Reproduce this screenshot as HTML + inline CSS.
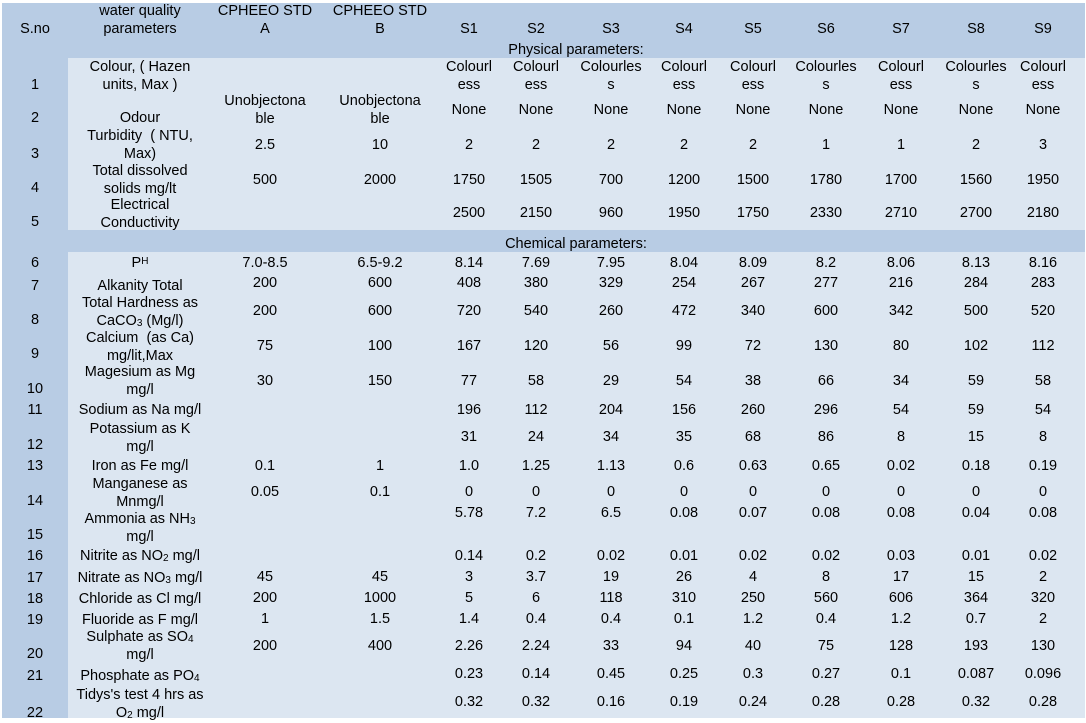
<!DOCTYPE html>
<html><head><meta charset="utf-8"><style>
body{margin:0;width:1086px;height:719px;background:#fff;position:relative;overflow:hidden;font-family:"Liberation Sans",Arial,sans-serif;font-size:14.5px;color:#000}
.bg{position:absolute}
.t{position:absolute;width:120px;margin-left:-60px;margin-top:2px;text-align:center;line-height:17.5px;white-space:nowrap}
.w{width:170px;margin-left:-85px}
sub{font-size:10px;vertical-align:-1px;line-height:0}
sup{font-size:10px;vertical-align:3px;line-height:0}
</style></head><body>
<div class="bg" style="left:2px;top:3px;width:1083px;height:715px;background:#b8cce4"></div>
<div class="bg" style="left:68px;top:58px;width:1017px;height:172px;background:#dce6f1"></div>
<div class="bg" style="left:68px;top:252px;width:1017px;height:466px;background:#dce6f1"></div>

<div class="t" style="left:35px;top:19px">S.no</div>
<div class="t w" style="left:140px;top:1px">water quality<br>parameters</div>
<div class="t w" style="left:265px;top:1px">CPHEEO STD<br>A</div>
<div class="t w" style="left:380px;top:1px">CPHEEO STD<br>B</div>
<div class="t" style="left:469px;top:19px">S1</div>
<div class="t" style="left:536px;top:19px">S2</div>
<div class="t" style="left:611px;top:19px">S3</div>
<div class="t" style="left:684px;top:19px">S4</div>
<div class="t" style="left:753px;top:19px">S5</div>
<div class="t" style="left:826px;top:19px">S6</div>
<div class="t" style="left:901px;top:19px">S7</div>
<div class="t" style="left:976px;top:19px">S8</div>
<div class="t" style="left:1043px;top:19px">S9</div>
<div class="t w" style="left:576px;top:40px">Physical parameters:</div>

<div class="t" style="left:35px;top:75px">1</div>
<div class="t w" style="left:140px;top:57px">Colour, ( Hazen<br>units, Max )</div>
<div class="t" style="left:469px;top:57px">Colourl<br>ess</div>
<div class="t" style="left:536px;top:57px">Colourl<br>ess</div>
<div class="t" style="left:611px;top:57px">Colourles<br>s</div>
<div class="t" style="left:684px;top:57px">Colourl<br>ess</div>
<div class="t" style="left:753px;top:57px">Colourl<br>ess</div>
<div class="t" style="left:826px;top:57px">Colourles<br>s</div>
<div class="t" style="left:901px;top:57px">Colourl<br>ess</div>
<div class="t" style="left:976px;top:57px">Colourles<br>s</div>
<div class="t" style="left:1043px;top:57px">Colourl<br>ess</div>

<div class="t" style="left:35px;top:108px">2</div>
<div class="t w" style="left:140px;top:108px">Odour</div>
<div class="t w" style="left:265px;top:91px">Unobjectona<br>ble</div>
<div class="t w" style="left:380px;top:91px">Unobjectona<br>ble</div>
<div class="t" style="left:469px;top:100px">None</div>
<div class="t" style="left:536px;top:100px">None</div>
<div class="t" style="left:611px;top:100px">None</div>
<div class="t" style="left:684px;top:100px">None</div>
<div class="t" style="left:753px;top:100px">None</div>
<div class="t" style="left:826px;top:100px">None</div>
<div class="t" style="left:901px;top:100px">None</div>
<div class="t" style="left:976px;top:100px">None</div>
<div class="t" style="left:1043px;top:100px">None</div>

<div class="t" style="left:35px;top:144px">3</div>
<div class="t w" style="left:140px;top:126px">Turbidity &nbsp;( NTU,<br>Max)</div>
<div class="t" style="left:265px;top:135px">2.5</div>
<div class="t" style="left:380px;top:135px">10</div>
<div class="t" style="left:469px;top:135px">2</div>
<div class="t" style="left:536px;top:135px">2</div>
<div class="t" style="left:611px;top:135px">2</div>
<div class="t" style="left:684px;top:135px">2</div>
<div class="t" style="left:753px;top:135px">2</div>
<div class="t" style="left:826px;top:135px">1</div>
<div class="t" style="left:901px;top:135px">1</div>
<div class="t" style="left:976px;top:135px">2</div>
<div class="t" style="left:1043px;top:135px">3</div>

<div class="t" style="left:35px;top:178px">4</div>
<div class="t w" style="left:140px;top:161px">Total dissolved<br>solids mg/lt</div>
<div class="t" style="left:265px;top:170px">500</div>
<div class="t" style="left:380px;top:170px">2000</div>
<div class="t" style="left:469px;top:170px">1750</div>
<div class="t" style="left:536px;top:170px">1505</div>
<div class="t" style="left:611px;top:170px">700</div>
<div class="t" style="left:684px;top:170px">1200</div>
<div class="t" style="left:753px;top:170px">1500</div>
<div class="t" style="left:826px;top:170px">1780</div>
<div class="t" style="left:901px;top:170px">1700</div>
<div class="t" style="left:976px;top:170px">1560</div>
<div class="t" style="left:1043px;top:170px">1950</div>

<div class="t" style="left:35px;top:212px">5</div>
<div class="t w" style="left:140px;top:195px">Electrical<br>Conductivity</div>
<div class="t" style="left:469px;top:203px">2500</div>
<div class="t" style="left:536px;top:203px">2150</div>
<div class="t" style="left:611px;top:203px">960</div>
<div class="t" style="left:684px;top:203px">1950</div>
<div class="t" style="left:753px;top:203px">1750</div>
<div class="t" style="left:826px;top:203px">2330</div>
<div class="t" style="left:901px;top:203px">2710</div>
<div class="t" style="left:976px;top:203px">2700</div>
<div class="t" style="left:1043px;top:203px">2180</div>
<div class="t w" style="left:576px;top:234px">Chemical parameters:</div>

<div class="t" style="left:35px;top:253px">6</div>
<div class="t w" style="left:140px;top:253px">P<sup>H</sup></div>
<div class="t" style="left:265px;top:253px">7.0-8.5</div>
<div class="t" style="left:380px;top:253px">6.5-9.2</div>
<div class="t" style="left:469px;top:253px">8.14</div>
<div class="t" style="left:536px;top:253px">7.69</div>
<div class="t" style="left:611px;top:253px">7.95</div>
<div class="t" style="left:684px;top:253px">8.04</div>
<div class="t" style="left:753px;top:253px">8.09</div>
<div class="t" style="left:826px;top:253px">8.2</div>
<div class="t" style="left:901px;top:253px">8.06</div>
<div class="t" style="left:976px;top:253px">8.13</div>
<div class="t" style="left:1043px;top:253px">8.16</div>

<div class="t" style="left:35px;top:276px">7</div>
<div class="t w" style="left:140px;top:276px">Alkanity Total</div>
<div class="t" style="left:265px;top:273px">200</div>
<div class="t" style="left:380px;top:273px">600</div>
<div class="t" style="left:469px;top:273px">408</div>
<div class="t" style="left:536px;top:273px">380</div>
<div class="t" style="left:611px;top:273px">329</div>
<div class="t" style="left:684px;top:273px">254</div>
<div class="t" style="left:753px;top:273px">267</div>
<div class="t" style="left:826px;top:273px">277</div>
<div class="t" style="left:901px;top:273px">216</div>
<div class="t" style="left:976px;top:273px">284</div>
<div class="t" style="left:1043px;top:273px">283</div>

<div class="t" style="left:35px;top:310px">8</div>
<div class="t w" style="left:140px;top:293px">Total Hardness as<br>CaCO<sub>3</sub> (Mg/l)</div>
<div class="t" style="left:265px;top:301px">200</div>
<div class="t" style="left:380px;top:301px">600</div>
<div class="t" style="left:469px;top:301px">720</div>
<div class="t" style="left:536px;top:301px">540</div>
<div class="t" style="left:611px;top:301px">260</div>
<div class="t" style="left:684px;top:301px">472</div>
<div class="t" style="left:753px;top:301px">340</div>
<div class="t" style="left:826px;top:301px">600</div>
<div class="t" style="left:901px;top:301px">342</div>
<div class="t" style="left:976px;top:301px">500</div>
<div class="t" style="left:1043px;top:301px">520</div>

<div class="t" style="left:35px;top:344px">9</div>
<div class="t w" style="left:140px;top:328px">Calcium &nbsp;(as Ca)<br>mg/lit,Max</div>
<div class="t" style="left:265px;top:336px">75</div>
<div class="t" style="left:380px;top:336px">100</div>
<div class="t" style="left:469px;top:336px">167</div>
<div class="t" style="left:536px;top:336px">120</div>
<div class="t" style="left:611px;top:336px">56</div>
<div class="t" style="left:684px;top:336px">99</div>
<div class="t" style="left:753px;top:336px">72</div>
<div class="t" style="left:826px;top:336px">130</div>
<div class="t" style="left:901px;top:336px">80</div>
<div class="t" style="left:976px;top:336px">102</div>
<div class="t" style="left:1043px;top:336px">112</div>

<div class="t" style="left:35px;top:379px">10</div>
<div class="t w" style="left:140px;top:362px">Magesium as Mg<br>mg/l</div>
<div class="t" style="left:265px;top:371px">30</div>
<div class="t" style="left:380px;top:371px">150</div>
<div class="t" style="left:469px;top:371px">77</div>
<div class="t" style="left:536px;top:371px">58</div>
<div class="t" style="left:611px;top:371px">29</div>
<div class="t" style="left:684px;top:371px">54</div>
<div class="t" style="left:753px;top:371px">38</div>
<div class="t" style="left:826px;top:371px">66</div>
<div class="t" style="left:901px;top:371px">34</div>
<div class="t" style="left:976px;top:371px">59</div>
<div class="t" style="left:1043px;top:371px">58</div>

<div class="t" style="left:35px;top:400px">11</div>
<div class="t w" style="left:140px;top:400px">Sodium as Na mg/l</div>
<div class="t" style="left:469px;top:400px">196</div>
<div class="t" style="left:536px;top:400px">112</div>
<div class="t" style="left:611px;top:400px">204</div>
<div class="t" style="left:684px;top:400px">156</div>
<div class="t" style="left:753px;top:400px">260</div>
<div class="t" style="left:826px;top:400px">296</div>
<div class="t" style="left:901px;top:400px">54</div>
<div class="t" style="left:976px;top:400px">59</div>
<div class="t" style="left:1043px;top:400px">54</div>

<div class="t" style="left:35px;top:435px">12</div>
<div class="t w" style="left:140px;top:419px">Potassium as K<br>mg/l</div>
<div class="t" style="left:469px;top:427px">31</div>
<div class="t" style="left:536px;top:427px">24</div>
<div class="t" style="left:611px;top:427px">34</div>
<div class="t" style="left:684px;top:427px">35</div>
<div class="t" style="left:753px;top:427px">68</div>
<div class="t" style="left:826px;top:427px">86</div>
<div class="t" style="left:901px;top:427px">8</div>
<div class="t" style="left:976px;top:427px">15</div>
<div class="t" style="left:1043px;top:427px">8</div>

<div class="t" style="left:35px;top:456px">13</div>
<div class="t w" style="left:140px;top:456px">Iron as Fe mg/l</div>
<div class="t" style="left:265px;top:456px">0.1</div>
<div class="t" style="left:380px;top:456px">1</div>
<div class="t" style="left:469px;top:456px">1.0</div>
<div class="t" style="left:536px;top:456px">1.25</div>
<div class="t" style="left:611px;top:456px">1.13</div>
<div class="t" style="left:684px;top:456px">0.6</div>
<div class="t" style="left:753px;top:456px">0.63</div>
<div class="t" style="left:826px;top:456px">0.65</div>
<div class="t" style="left:901px;top:456px">0.02</div>
<div class="t" style="left:976px;top:456px">0.18</div>
<div class="t" style="left:1043px;top:456px">0.19</div>

<div class="t" style="left:35px;top:491px">14</div>
<div class="t w" style="left:140px;top:474px">Manganese as<br>Mnmg/l</div>
<div class="t" style="left:265px;top:482px">0.05</div>
<div class="t" style="left:380px;top:482px">0.1</div>
<div class="t" style="left:469px;top:482px">0</div>
<div class="t" style="left:536px;top:482px">0</div>
<div class="t" style="left:611px;top:482px">0</div>
<div class="t" style="left:684px;top:482px">0</div>
<div class="t" style="left:753px;top:482px">0</div>
<div class="t" style="left:826px;top:482px">0</div>
<div class="t" style="left:901px;top:482px">0</div>
<div class="t" style="left:976px;top:482px">0</div>
<div class="t" style="left:1043px;top:482px">0</div>

<div class="t" style="left:35px;top:525px">15</div>
<div class="t w" style="left:140px;top:509px">Ammonia as NH<sub>3</sub><br>mg/l</div>
<div class="t" style="left:469px;top:503px">5.78</div>
<div class="t" style="left:536px;top:503px">7.2</div>
<div class="t" style="left:611px;top:503px">6.5</div>
<div class="t" style="left:684px;top:503px">0.08</div>
<div class="t" style="left:753px;top:503px">0.07</div>
<div class="t" style="left:826px;top:503px">0.08</div>
<div class="t" style="left:901px;top:503px">0.08</div>
<div class="t" style="left:976px;top:503px">0.04</div>
<div class="t" style="left:1043px;top:503px">0.08</div>

<div class="t" style="left:35px;top:546px">16</div>
<div class="t w" style="left:140px;top:546px">Nitrite as NO<sub>2</sub> mg/l</div>
<div class="t" style="left:469px;top:546px">0.14</div>
<div class="t" style="left:536px;top:546px">0.2</div>
<div class="t" style="left:611px;top:546px">0.02</div>
<div class="t" style="left:684px;top:546px">0.01</div>
<div class="t" style="left:753px;top:546px">0.02</div>
<div class="t" style="left:826px;top:546px">0.02</div>
<div class="t" style="left:901px;top:546px">0.03</div>
<div class="t" style="left:976px;top:546px">0.01</div>
<div class="t" style="left:1043px;top:546px">0.02</div>

<div class="t" style="left:35px;top:568px">17</div>
<div class="t w" style="left:140px;top:568px">Nitrate as NO<sub>3</sub> mg/l</div>
<div class="t" style="left:265px;top:567px">45</div>
<div class="t" style="left:380px;top:567px">45</div>
<div class="t" style="left:469px;top:567px">3</div>
<div class="t" style="left:536px;top:567px">3.7</div>
<div class="t" style="left:611px;top:567px">19</div>
<div class="t" style="left:684px;top:567px">26</div>
<div class="t" style="left:753px;top:567px">4</div>
<div class="t" style="left:826px;top:567px">8</div>
<div class="t" style="left:901px;top:567px">17</div>
<div class="t" style="left:976px;top:567px">15</div>
<div class="t" style="left:1043px;top:567px">2</div>

<div class="t" style="left:35px;top:589px">18</div>
<div class="t w" style="left:140px;top:589px">Chloride as Cl mg/l</div>
<div class="t" style="left:265px;top:588px">200</div>
<div class="t" style="left:380px;top:588px">1000</div>
<div class="t" style="left:469px;top:588px">5</div>
<div class="t" style="left:536px;top:588px">6</div>
<div class="t" style="left:611px;top:588px">118</div>
<div class="t" style="left:684px;top:588px">310</div>
<div class="t" style="left:753px;top:588px">250</div>
<div class="t" style="left:826px;top:588px">560</div>
<div class="t" style="left:901px;top:588px">606</div>
<div class="t" style="left:976px;top:588px">364</div>
<div class="t" style="left:1043px;top:588px">320</div>

<div class="t" style="left:35px;top:610px">19</div>
<div class="t w" style="left:140px;top:610px">Fluoride as F mg/l</div>
<div class="t" style="left:265px;top:609px">1</div>
<div class="t" style="left:380px;top:609px">1.5</div>
<div class="t" style="left:469px;top:609px">1.4</div>
<div class="t" style="left:536px;top:609px">0.4</div>
<div class="t" style="left:611px;top:609px">0.4</div>
<div class="t" style="left:684px;top:609px">0.1</div>
<div class="t" style="left:753px;top:609px">1.2</div>
<div class="t" style="left:826px;top:609px">0.4</div>
<div class="t" style="left:901px;top:609px">1.2</div>
<div class="t" style="left:976px;top:609px">0.7</div>
<div class="t" style="left:1043px;top:609px">2</div>

<div class="t" style="left:35px;top:644px">20</div>
<div class="t w" style="left:140px;top:627px">Sulphate as SO<sub>4</sub><br>mg/l</div>
<div class="t" style="left:265px;top:636px">200</div>
<div class="t" style="left:380px;top:636px">400</div>
<div class="t" style="left:469px;top:636px">2.26</div>
<div class="t" style="left:536px;top:636px">2.24</div>
<div class="t" style="left:611px;top:636px">33</div>
<div class="t" style="left:684px;top:636px">94</div>
<div class="t" style="left:753px;top:636px">40</div>
<div class="t" style="left:826px;top:636px">75</div>
<div class="t" style="left:901px;top:636px">128</div>
<div class="t" style="left:976px;top:636px">193</div>
<div class="t" style="left:1043px;top:636px">130</div>

<div class="t" style="left:35px;top:666px">21</div>
<div class="t w" style="left:140px;top:666px">Phosphate as PO<sub>4</sub></div>
<div class="t" style="left:469px;top:664px">0.23</div>
<div class="t" style="left:536px;top:664px">0.14</div>
<div class="t" style="left:611px;top:664px">0.45</div>
<div class="t" style="left:684px;top:664px">0.25</div>
<div class="t" style="left:753px;top:664px">0.3</div>
<div class="t" style="left:826px;top:664px">0.27</div>
<div class="t" style="left:901px;top:664px">0.1</div>
<div class="t" style="left:976px;top:664px">0.087</div>
<div class="t" style="left:1043px;top:664px">0.096</div>

<div class="t" style="left:35px;top:703px">22</div>
<div class="t w" style="left:140px;top:685px">Tidys's test 4 hrs as<br>O<sub>2</sub> mg/l</div>
<div class="t" style="left:469px;top:692px">0.32</div>
<div class="t" style="left:536px;top:692px">0.32</div>
<div class="t" style="left:611px;top:692px">0.16</div>
<div class="t" style="left:684px;top:692px">0.19</div>
<div class="t" style="left:753px;top:692px">0.24</div>
<div class="t" style="left:826px;top:692px">0.28</div>
<div class="t" style="left:901px;top:692px">0.28</div>
<div class="t" style="left:976px;top:692px">0.32</div>
<div class="t" style="left:1043px;top:692px">0.28</div>
</body></html>
